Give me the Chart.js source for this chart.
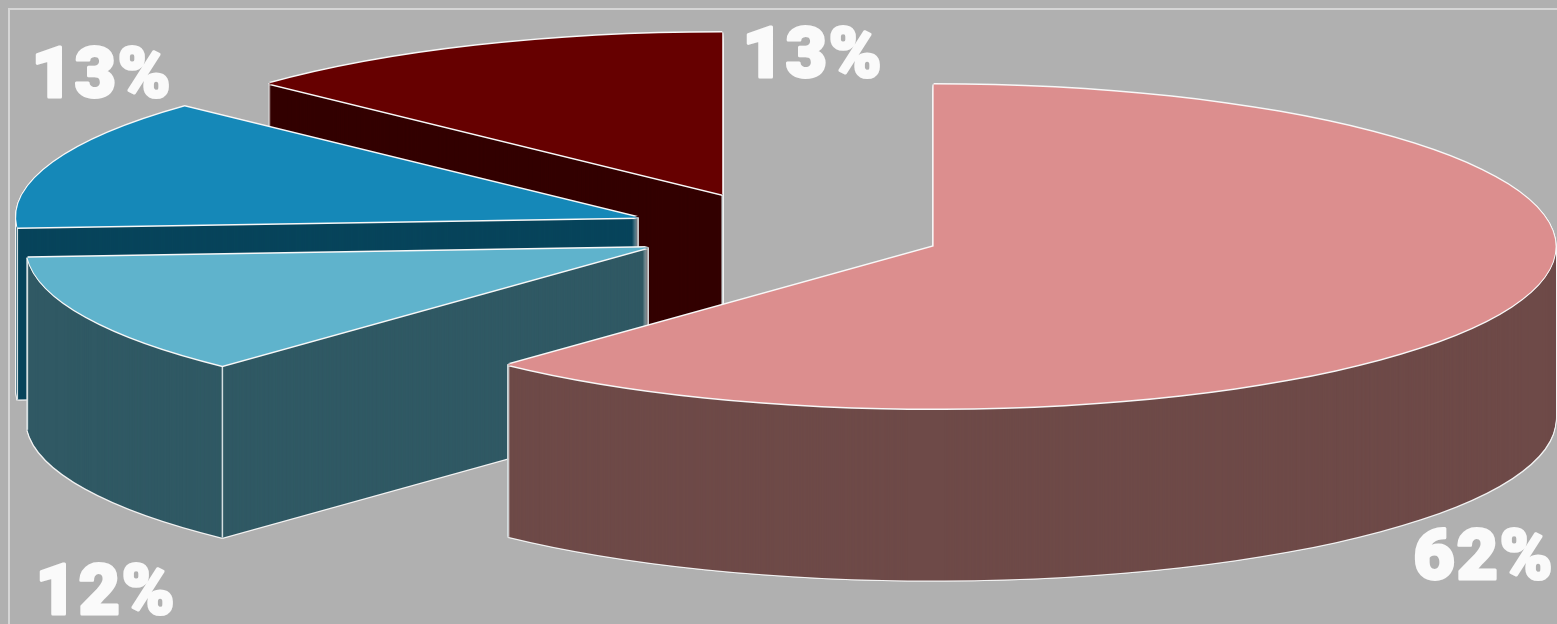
<!DOCTYPE html>
<html>
<head>
<meta charset="utf-8">
<title>Share by segment</title>
<style>
  html, body { margin: 0; padding: 0; background: #b0b0b0; overflow: hidden; }
  #frame { position: absolute; left: 8px; top: 8px; right: -2px; bottom: -2px; border-left: 2px solid #d6d6d6; border-top: 2px solid #d6d6d6; }
  #pie { position: absolute; left: 0; top: 0; }
</style>
<script src="https://cdn.jsdelivr.net/npm/chart.js@4"></script>
</head>
<body>
<div id="frame"></div>
<canvas id="pie" width="1557" height="624"></canvas>
<script>
const categories = ["A", "B", "C", "D"];
const shares = [62, 12, 13, 13];
const topColors = ["#dc8e8e", "#5fb3cc", "#1588b8", "#660000"];
const wallColors = ["#6e4a48", "#305964", "#07445b", "#330000"];
const explode = [162, 149, 154, 153];   // how far each slice is pulled out
const labelSpots = [[1484, 561], [106, 596], [102, 79], [813, 59]];

const TILT = 0.2605;      // vertical squash of the disc
const DEPTH = 172;        // wall height in px
const CENTER_Y = 231;     // screen y of the pie centre

// paints one arc with the tilt and its explode shift, moved down by `drop` px
function paint(chart, arc, i, color, dx, drop) {
  const ctx = chart.ctx;
  const mid = (arc.startAngle + arc.endAngle) / 2;
  const saved = arc.options;
  ctx.save();
  ctx.translate(dx, CENTER_Y + drop);
  ctx.scale(1, TILT);
  ctx.translate(Math.cos(mid) * explode[i], Math.sin(mid) * explode[i] - arc.y);
  arc.options = Object.assign({}, saved, { backgroundColor: color, borderWidth: 0 });
  arc.draw(ctx);
  arc.options = saved;
  ctx.restore();
}

// screen position of a point on the tilted slice
function spot(arc, i, angle, r) {
  const mid = (arc.startAngle + arc.endAngle) / 2;
  return {
    x: arc.x + Math.cos(mid) * explode[i] + Math.cos(angle) * r,
    y: CENTER_Y + (Math.sin(mid) * explode[i] + Math.sin(angle) * r) * TILT
  };
}

function edge(ctx, p) {
  ctx.beginPath();
  ctx.moveTo(p.x, p.y);
  ctx.lineTo(p.x, p.y + DEPTH);
  ctx.stroke();
}

const tiltedPie = {
  id: "tiltedPie",
  beforeDatasetsDraw(chart) {
    const ctx = chart.ctx;
    const arcs = chart.getDatasetMeta(0).data;
    // back slices first, the big one ends up in front
    for (let i = arcs.length - 1; i >= 0; i--) {
      const arc = arcs[i];
      for (let d = DEPTH + 1; d >= 0; d--) {
        paint(chart, arc, i, "#f2f2f2", -1, d);
        paint(chart, arc, i, "#f2f2f2", 1, d);
      }
      for (let d = DEPTH; d >= 0; d--) paint(chart, arc, i, wallColors[i], 0, d);

      ctx.strokeStyle = "#d4dee0";
      ctx.lineWidth = 1.5;
      const apex = spot(arc, i, 0, 0);
      if (arc.endAngle - arc.startAngle < Math.PI) edge(ctx, apex);
      [arc.startAngle, arc.endAngle].forEach(a => {
        const rim = spot(arc, i, a, arc.outerRadius);
        if (rim.y > apex.y) edge(ctx, rim);
      });

      [[-1, 0], [1, 0], [0, -1.5], [0, 1.5]].forEach(o => paint(chart, arc, i, "#f8f8f8", o[0], o[1]));
      paint(chart, arc, i, topColors[i], 0, 0);
    }
    return false;
  },
  afterDraw(chart) {
    const ctx = chart.ctx;
    ctx.save();
    ctx.font = "900 71px Roboto";
    ctx.letterSpacing = "2px";
    ctx.textAlign = "center";
    ctx.textBaseline = "middle";
    ctx.lineJoin = "round";
    ctx.lineWidth = 3;
    ctx.fillStyle = "#fafafa";
    ctx.strokeStyle = "#fafafa";
    shares.forEach((v, i) => {
      const [x, y] = labelSpots[i];
      ctx.strokeText(v + "%", x, y);
      ctx.fillText(v + "%", x, y);
    });
    ctx.restore();
  }
};

new Chart(document.getElementById("pie"), {
  type: "pie",
  data: {
    labels: categories,
    datasets: [{
      data: shares,
      backgroundColor: topColors,
      borderWidth: 0,
      radius: 622
    }]
  },
  options: {
    responsive: false,
    animation: false,
    layout: { padding: { left: 9 } },
    events: [],
    plugins: { legend: { display: false }, tooltip: { enabled: false } }
  },
  plugins: [tiltedPie]
});
</script>
</body>
</html>
